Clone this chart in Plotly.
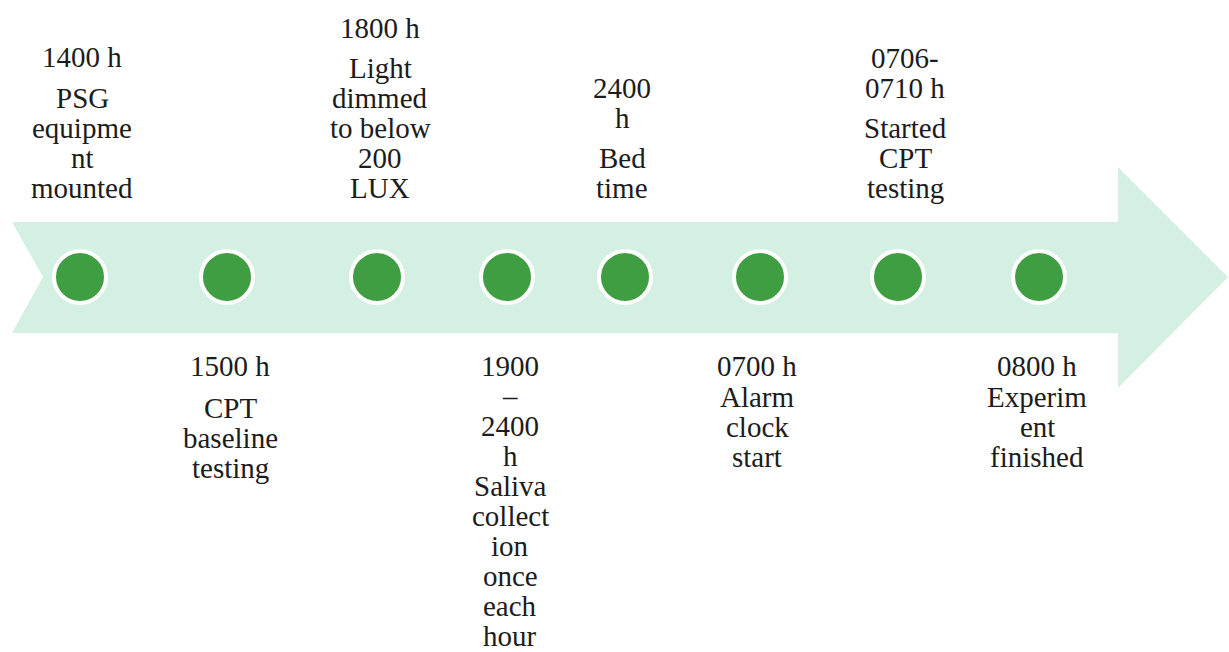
import plotly.graph_objects as go

# ---- data ----
event_order = [1, 2, 3, 4, 5, 6, 7, 8]
event_x = [80, 227, 377, 507, 625, 760, 898, 1039]          # positions along timeline
label_side = ["top", "bottom", "top", "bottom", "top", "bottom", "top", "bottom"]
label_x = [82, 230, 380, 510, 622, 757, 905, 1037]
time_lines = [
    ["1400 h"],
    ["1500 h"],
    ["1800 h"],
    ["1900", "–", "2400", "h"],
    ["2400", "h"],
    ["0700 h"],
    ["0706-", "0710 h"],
    ["0800 h"],
]
desc_lines = [
    ["PSG", "equipme", "nt", "mounted"],
    ["CPT", "baseline", "testing"],
    ["Light", "dimmed", "to below", "200", "LUX"],
    ["Saliva", "collect", "ion", "once", "each", "hour"],
    ["Bed", "time"],
    ["Alarm", "clock", "start"],
    ["Started", "CPT", "testing"],
    ["Experim", "ent", "finished"],
]
block_gap = [41, 42, 40, 30, 40, 31, 40, 31]

# ---- style ----
W, H = 1229, 652
ARROW = "#d3f0e2"
GREEN = "#3f9e42"
TEXT = "#1c1c1c"
FONT = "Liberation Serif"
FS = 29
LINE = 30
AXIS_Y = 277
TOP_END = 188      # centre of last description line above arrow
BOTTOM_START = 366 # centre of first time line below arrow

fig = go.Figure()

# arrow band
fig.add_shape(
    type="path",
    path="M 12 222 L 1118 222 L 1118 167 L 1228 277 L 1118 388 L 1118 333 L 12 333 L 43 277 Z",
    xref="x", yref="y", fillcolor=ARROW, line=dict(width=0), layer="below",
)

# event markers
fig.add_trace(go.Scatter(
    x=event_x, y=[AXIS_Y] * len(event_x), mode="markers",
    marker=dict(size=52, color=GREEN, line=dict(color="white", width=4)),
    hoverinfo="skip", showlegend=False,
))

# labels
annotations = []
for i in range(len(event_order)):
    lines_t = time_lines[i]
    lines_d = desc_lines[i]
    if label_side[i] == "top":
        yd = [TOP_END - LINE * (len(lines_d) - 1 - k) for k in range(len(lines_d))]
        last_t = yd[0] - block_gap[i]
        yt = [last_t - LINE * (len(lines_t) - 1 - k) for k in range(len(lines_t))]
    else:
        yt = [BOTTOM_START + LINE * k for k in range(len(lines_t))]
        first_d = yt[-1] + block_gap[i]
        yd = [first_d + LINE * k for k in range(len(lines_d))]
    for txt, yy in zip(lines_t + lines_d, yt + yd):
        annotations.append(dict(
            x=label_x[i], y=yy, text=txt, showarrow=False,
            xanchor="center", yanchor="middle",
            font=dict(family=FONT, size=FS, color=TEXT),
        ))

fig.update_layout(
    width=W, height=H,
    margin=dict(l=0, r=0, t=0, b=0),
    paper_bgcolor="white", plot_bgcolor="white",
    xaxis=dict(range=[0, W], visible=False, fixedrange=True),
    yaxis=dict(range=[H, 0], visible=False, fixedrange=True),
    annotations=annotations,
    showlegend=False,
)

fig.write_html(
    "out.html",
    config={"displayModeBar": False},
    post_script="document.body.style.margin='0';document.body.style.overflow='hidden';",
)
